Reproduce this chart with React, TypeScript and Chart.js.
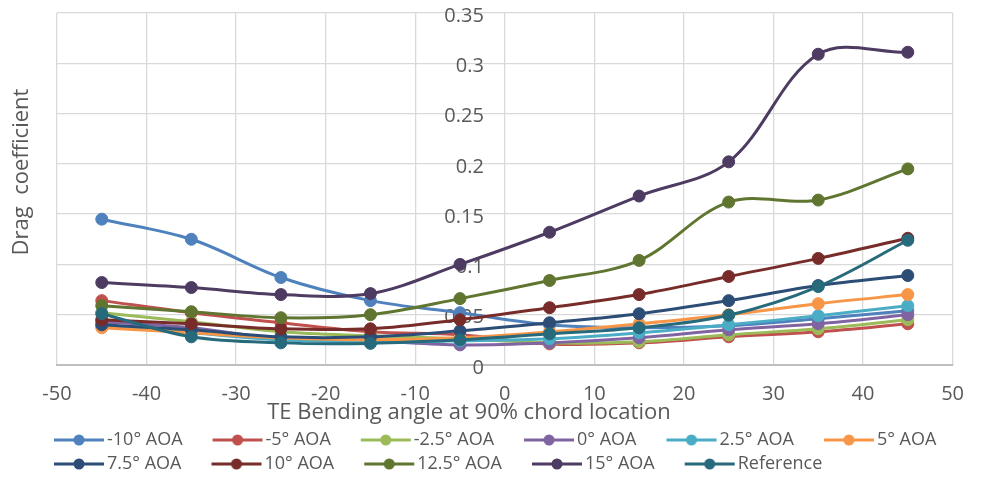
import React, { useEffect, useRef } from 'react';
import { Chart, registerables } from 'chart.js';

Chart.register(...registerables);

// ---- data ----
const BEND_ANGLES = [-45, -35, -25, -15, -5, 5, 15, 25, 35, 45];

const SERIES_NAMES = [
  '-10° AOA', '-5° AOA', '-2.5° AOA', '0° AOA', '2.5° AOA', '5° AOA',
  '7.5° AOA', '10° AOA', '12.5° AOA', '15° AOA', 'Reference',
];

const AOA_M10 = [0.145, 0.125, 0.087, 0.064, 0.052, 0.040, 0.037, 0.039, 0.046, 0.054];
const AOA_M5 = [0.064, 0.052, 0.042, 0.033, 0.030, 0.021, 0.022, 0.028, 0.033, 0.041];
const AOA_M2_5 = [0.052, 0.043, 0.033, 0.029, 0.026, 0.022, 0.023, 0.030, 0.036, 0.045];
const AOA_0 = [0.043, 0.037, 0.026, 0.024, 0.020, 0.022, 0.027, 0.035, 0.041, 0.050];
const AOA_2_5 = [0.039, 0.032, 0.025, 0.023, 0.024, 0.026, 0.032, 0.040, 0.049, 0.059];
const AOA_5 = [0.037, 0.032, 0.027, 0.025, 0.027, 0.033, 0.041, 0.050, 0.061, 0.070];
const AOA_7_5 = [0.040, 0.035, 0.028, 0.028, 0.034, 0.042, 0.051, 0.064, 0.079, 0.089];
const AOA_10 = [0.045, 0.041, 0.036, 0.036, 0.045, 0.057, 0.070, 0.088, 0.106, 0.126];
const AOA_12_5 = [0.059, 0.053, 0.047, 0.050, 0.066, 0.084, 0.104, 0.162, 0.164, 0.195];
const AOA_15 = [0.082, 0.077, 0.070, 0.071, 0.100, 0.132, 0.168, 0.202, 0.309, 0.311];
const REFERENCE = [0.051, 0.028, 0.022, 0.0215, 0.025, 0.031, 0.037, 0.0495, 0.078, 0.124];

const SERIES_VALUES = [
  AOA_M10, AOA_M5, AOA_M2_5, AOA_0, AOA_2_5, AOA_5,
  AOA_7_5, AOA_10, AOA_12_5, AOA_15, REFERENCE,
];

const SERIES_COLORS = [
  '#4F81BD', '#C0504D', '#9BBB59', '#8064A2', '#4BACC6', '#F79646',
  '#2C4D75', '#772C2A', '#5F7530', '#4D3B62', '#276A7C',
];

const X_TITLE = 'TE Bending angle at 90% chord location';
const Y_TITLE = 'Drag  coefficient';

const FONT = '"Open Sans", "DejaVu Sans", sans-serif';
const TEXT_COLOR = '#595959';
const GRID_COLOR = '#D9D9D9';

function makeLegendSymbol(color: string): HTMLCanvasElement {
  const c = document.createElement('canvas');
  c.width = 88;
  c.height = 16;
  const g = c.getContext('2d')!;
  g.strokeStyle = color;
  g.lineWidth = 3;
  g.beginPath();
  g.moveTo(34, 8);
  g.lineTo(84, 8);
  g.stroke();
  g.fillStyle = color;
  g.beginPath();
  g.arc(59, 8, 5.5, 0, Math.PI * 2);
  g.fill();
  return c;
}

const axisTitlesPlugin = {
  id: 'axisTitles',
  afterDraw(chart: any) {
    const { ctx, chartArea } = chart;
    ctx.save();
    ctx.fillStyle = TEXT_COLOR;
    ctx.font = `22px ${FONT}`;
    ctx.textAlign = 'center';
    ctx.textBaseline = 'middle';
    ctx.fillText(X_TITLE, chartArea.left + chartArea.width * 0.46, chartArea.bottom + 48);
    ctx.translate(22, chartArea.top + 159);
    ctx.rotate(-Math.PI / 2);
    ctx.fillText(Y_TITLE, 0, 0);
    ctx.restore();
  },
};

export default function App() {
  const canvasRef = useRef<HTMLCanvasElement | null>(null);

  useEffect(() => {
    if (!canvasRef.current) return;
    const symbols = SERIES_COLORS.map(makeLegendSymbol);
    const n = SERIES_NAMES.length;

    const datasets = SERIES_NAMES.map((name, i) => ({
      label: name,
      data: BEND_ANGLES.map((x, j) => ({ x, y: SERIES_VALUES[i][j] })),
      borderColor: SERIES_COLORS[i],
      backgroundColor: SERIES_COLORS[i],
      pointBackgroundColor: SERIES_COLORS[i],
      pointBorderColor: SERIES_COLORS[i],
      borderWidth: 3,
      pointRadius: 6,
      pointBorderWidth: 1,
      tension: 0.35,
      order: n - 1 - i,
    }));

    const chart = new Chart(canvasRef.current, {
      type: 'line',
      data: { datasets },
      plugins: [axisTitlesPlugin],
      options: {
        animation: false,
        responsive: true,
        maintainAspectRatio: false,
        layout: { padding: { left: 24, right: 26, top: 12, bottom: -5 } },
        scales: {
          x: {
            type: 'linear',
            position: 'bottom',
            min: -50,
            max: 50,
            ticks: {
              stepSize: 10,
              color: TEXT_COLOR,
              padding: 19,
              font: { family: FONT, size: 20, lineHeight: 1 },
              maxRotation: 0,
            },
            grid: { color: GRID_COLOR, lineWidth: 1.3, drawTicks: false },
            border: { display: true, color: '#BFBFBF', width: 2 },
            afterFit: (s: any) => { s.height = 60; },
          },
          y: {
            type: 'linear',
            position: { x: -2.33 } as any,
            min: 0,
            max: 0.35,
            ticks: {
              stepSize: 0.05,
              color: TEXT_COLOR,
              labelOffset: 3,
              font: { family: FONT, size: 20, lineHeight: 1 },
              callback: (v: any) => String(Number(Number(v).toFixed(2))),
            },
            grid: { color: GRID_COLOR, lineWidth: 1.3, drawTicks: false },
            border: { display: false },
          },
          yLeft: {
            type: 'linear',
            position: 'left',
            display: true,
            ticks: { display: false },
            grid: { display: false, drawTicks: false },
            border: { display: false },
            afterFit: (s: any) => { s.width = 33; },
          },
        },
        plugins: {
          tooltip: { enabled: false },
          title: { display: false },
          legend: {
            display: true,
            position: 'bottom',
            align: 'start',
            labels: {
              usePointStyle: true,
              pointStyleWidth: 68,
              padding: 6,
              color: TEXT_COLOR,
              font: { family: FONT, size: 18 },
              generateLabels: (c: any) => {
                const items = (Chart.defaults.plugins.legend.labels as any).generateLabels(c);
                return items.map((it: any) => ({ ...it, pointStyle: symbols[it.datasetIndex] }));
              },
              sort: (a: any, b: any) => a.datasetIndex - b.datasetIndex,
            },
          },
        },
      } as any,
    });

    return () => chart.destroy();
  }, []);

  return (
    <div style={{ position: 'absolute', left: 0, top: 0, width: 983, height: 478 }}>
      <canvas ref={canvasRef} />
    </div>
  );
}
